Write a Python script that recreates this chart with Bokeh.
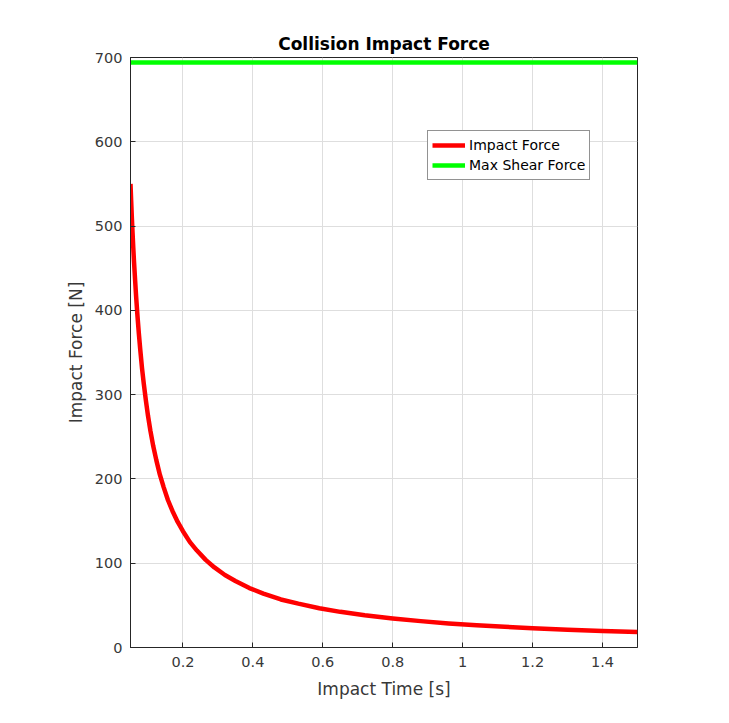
from bokeh.plotting import figure
from bokeh.models import Range1d, FixedTicker, CustomJSTickFormatter, Legend, LegendItem
from bokeh.embed import file_html
from bokeh.resources import INLINE

# Impact force curve
impact_time = [0.050, 0.052, 0.054, 0.056, 0.058, 0.060, 0.063, 0.066, 0.070, 0.074,
               0.078, 0.083, 0.088, 0.094, 0.100, 0.107, 0.115, 0.124, 0.134, 0.145,
               0.157, 0.170, 0.185, 0.200, 0.220, 0.240, 0.265, 0.290, 0.320, 0.350,
               0.390, 0.430, 0.480, 0.530, 0.590, 0.650, 0.720, 0.800, 0.880, 0.960,
               1.040, 1.120, 1.200, 1.300, 1.400, 1.500]
impact_force = [550, 529, 509, 491, 474, 458, 437, 417, 393, 372,
                353, 331, 313, 293, 275, 257, 239, 222, 205, 190,
                175, 162, 149, 138, 125, 115, 104, 95, 86, 79,
                70.5, 64, 57, 52, 46.6, 42.3, 38.2, 34.4, 31.3, 28.6,
                26.4, 24.6, 22.9, 21.2, 19.6, 18.3]

# Max shear force (constant)
shear_time = [0.05, 1.50]
shear_force = [694, 694]

x_ticks = [0.2, 0.4, 0.6, 0.8, 1.0, 1.2, 1.4]
y_ticks = [0, 100, 200, 300, 400, 500, 600, 700]

FONT = "DejaVu Sans"
DARK = "#262626"
TICKTXT = "#383838"

p = figure(width=729, height=723, output_backend="svg", toolbar_location=None,
           x_range=Range1d(0.05, 1.5), y_range=Range1d(0, 700),
           min_border_left=130, min_border_right=92, min_border_top=57,
           min_border_bottom=76, background_fill_color="white",
           border_fill_color="white")

p.title.text = "Collision Impact Force"
p.title.align = "center"
p.title.text_font = FONT
p.title.text_font_size = "17px"
p.title.text_font_style = "bold"
p.title.text_color = "#000000"
p.title.standoff = 8

p.outline_line_color = DARK
p.outline_line_width = 1
p.outline_line_alpha = 1

for ax in (p.xaxis[0], p.yaxis[0]):
    ax.axis_line_color = DARK
    ax.major_tick_line_color = DARK
    ax.minor_tick_line_color = None
    ax.major_tick_in = 5
    ax.major_tick_out = 0
    ax.major_label_text_font = FONT
    ax.major_label_text_font_size = "14.5px"
    ax.major_label_text_color = TICKTXT
    ax.axis_label_text_font = FONT
    ax.axis_label_text_font_size = "17px"
    ax.axis_label_text_font_style = "normal"
    ax.axis_label_text_color = TICKTXT

p.xaxis.ticker = FixedTicker(ticks=x_ticks)
p.yaxis.ticker = FixedTicker(ticks=y_ticks)
p.xaxis.formatter = CustomJSTickFormatter(code="return tick.toFixed(1).replace(/\\.0$/, '');")
p.xaxis.axis_label = "Impact Time [s]"
p.yaxis.axis_label = "Impact Force [N]"
p.xaxis.major_label_standoff = 9
p.yaxis.major_label_standoff = 8
p.xaxis.axis_label_standoff = 9
p.yaxis.axis_label_standoff = 6

p.xgrid.ticker = FixedTicker(ticks=x_ticks)
p.ygrid.ticker = FixedTicker(ticks=y_ticks)
p.grid.grid_line_color = "#dedede"
p.grid.grid_line_width = 1

r_impact = p.line(impact_time, impact_force, line_color="#ff0000", line_width=4.5,
                  line_join="round")
r_shear = p.line(shear_time, shear_force, line_color="#00ff00", line_width=4.5)

legend = Legend(items=[LegendItem(label="Impact Force", renderers=[r_impact]),
                       LegendItem(label="Max Shear Force", renderers=[r_shear])],
                location=(297, 467), margin=0, padding=4, spacing=0,
                glyph_width=33, glyph_height=20, label_height=20,
                label_standoff=4, label_text_font=FONT,
                label_text_font_size="14px", label_text_color="#000000",
                border_line_color=DARK, border_line_width=1,
                background_fill_color="white", background_fill_alpha=1)
p.add_layout(legend, "center")

open("out.html", "w").write(file_html(p, INLINE))
